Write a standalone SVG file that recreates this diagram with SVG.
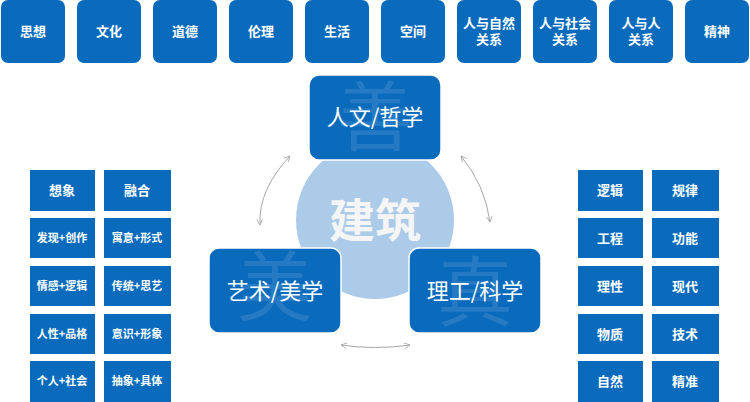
<svg xmlns="http://www.w3.org/2000/svg" width="750" height="402" viewBox="0 0 750 402">
<style>
.b{fill:#0a6bbd}
.t{fill:#fff;font-family:"Noto Sans CJK SC",sans-serif;font-size:13px;font-weight:bold;text-anchor:middle}
.s{font-size:11px}
.big{fill:#fff;font-family:"Noto Sans CJK SC",sans-serif;font-size:22px;text-anchor:middle}
.w{fill:#5b98d2;opacity:0.35;font-family:"Noto Sans CJK SC",sans-serif;font-size:76px;text-anchor:middle}
.c{fill:none;stroke:#a6a6a6;stroke-width:1;marker-start:url(#a);marker-end:url(#a)}
</style>
<defs><marker id="a" viewBox="0 0 10 10" refX="9" refY="5" markerWidth="7" markerHeight="7" orient="auto-start-reverse"><path d="M1,1 L9,5 L1,9" fill="none" stroke="#a6a6a6" stroke-width="1.2"/></marker></defs>
<rect width="750" height="402" fill="#fff"/>
<g id="top">
<g id="n1"><rect class="b" x="1" y="0" width="64" height="63" rx="7"/><text class="t" x="33" y="36">思想</text></g>
<g id="n2"><rect class="b" x="77" y="0" width="64" height="63" rx="7"/><text class="t" x="109" y="36">文化</text></g>
<g id="n3"><rect class="b" x="153" y="0" width="64" height="63" rx="7"/><text class="t" x="185" y="36">道德</text></g>
<g id="n4"><rect class="b" x="229" y="0" width="64" height="63" rx="7"/><text class="t" x="261" y="36">伦理</text></g>
<g id="n5"><rect class="b" x="305" y="0" width="64" height="63" rx="7"/><text class="t" x="337" y="36">生活</text></g>
<g id="n6"><rect class="b" x="381" y="0" width="64" height="63" rx="7"/><text class="t" x="413" y="36">空间</text></g>
<g id="n7"><rect class="b" x="457" y="0" width="64" height="63" rx="7"/><text class="t" x="489" y="28">人与自然</text><text class="t" x="489" y="44">关系</text></g>
<g id="n8"><rect class="b" x="533" y="0" width="64" height="63" rx="7"/><text class="t" x="565" y="28">人与社会</text><text class="t" x="565" y="44">关系</text></g>
<g id="n9"><rect class="b" x="609" y="0" width="64" height="63" rx="7"/><text class="t" x="641" y="28">人与人</text><text class="t" x="641" y="44">关系</text></g>
<g id="n10"><rect class="b" x="685" y="0" width="64" height="63" rx="7"/><text class="t" x="717" y="36">精神</text></g>
</g>
<g id="center"><circle cx="375" cy="220" r="79" fill="#abcbe9"/><text x="375" y="237" font-family="Noto Sans CJK SC,sans-serif" font-size="46" font-weight="bold" fill="#f5f5f5" text-anchor="middle">建筑</text></g>
<g id="phil"><rect class="b" x="309" y="75" width="132" height="85" rx="10" stroke="#fff" stroke-width="1.5"/><text class="w" x="375" y="145">善</text><text class="big" x="375" y="125">人文/哲学</text></g>
<g id="art"><rect class="b" x="209" y="248" width="132" height="85" rx="10" stroke="#fff" stroke-width="1.5"/><text class="w" x="275" y="315">美</text><text class="big" x="275" y="299">艺术/美学</text></g>
<g id="sci"><rect class="b" x="409" y="248" width="132" height="85" rx="10" stroke="#fff" stroke-width="1.5"/><text class="w" x="475" y="320">真</text><text class="big" x="475" y="299">理工/科学</text></g>
<g id="connectors">
<path class="c" d="M290,156 Q258,190 260,225"/>
<path class="c" d="M461,156 Q485,185 490,222"/>
<path class="c" d="M341,345 Q375,350 410,345"/>
</g>
<g id="left">
<g><rect class="b" x="30" y="170" width="65" height="41"/><text class="t" x="62" y="195">想象</text></g>
<g><rect class="b" x="104" y="170" width="67" height="41"/><text class="t" x="137" y="195">融合</text></g>
<g><rect class="b" x="30" y="218" width="65" height="40"/><text class="t s" x="62" y="242">发现+创作</text></g>
<g><rect class="b" x="104" y="218" width="67" height="40"/><text class="t s" x="137" y="242">寓意+形式</text></g>
<g><rect class="b" x="30" y="266" width="65" height="40"/><text class="t s" x="62" y="290">情感+逻辑</text></g>
<g><rect class="b" x="104" y="266" width="67" height="40"/><text class="t s" x="137" y="290">传统+思艺</text></g>
<g><rect class="b" x="30" y="314" width="65" height="40"/><text class="t s" x="62" y="338">人性+品格</text></g>
<g><rect class="b" x="104" y="314" width="67" height="40"/><text class="t s" x="137" y="338">意识+形象</text></g>
<g><rect class="b" x="30" y="361" width="65" height="41"/><text class="t s" x="62" y="385">个人+社会</text></g>
<g><rect class="b" x="104" y="361" width="67" height="41"/><text class="t s" x="137" y="385">抽象+具体</text></g>
</g>
<g id="right">
<g><rect class="b" x="578" y="170" width="65" height="41"/><text class="t" x="610" y="195">逻辑</text></g>
<g><rect class="b" x="652" y="170" width="67" height="41"/><text class="t" x="685" y="195">规律</text></g>
<g><rect class="b" x="578" y="218" width="65" height="40"/><text class="t" x="610" y="243">工程</text></g>
<g><rect class="b" x="652" y="218" width="67" height="40"/><text class="t" x="685" y="243">功能</text></g>
<g><rect class="b" x="578" y="266" width="65" height="40"/><text class="t" x="610" y="291">理性</text></g>
<g><rect class="b" x="652" y="266" width="67" height="40"/><text class="t" x="685" y="291">现代</text></g>
<g><rect class="b" x="578" y="314" width="65" height="40"/><text class="t" x="610" y="339">物质</text></g>
<g><rect class="b" x="652" y="314" width="67" height="40"/><text class="t" x="685" y="339">技术</text></g>
<g><rect class="b" x="578" y="361" width="65" height="41"/><text class="t" x="610" y="386">自然</text></g>
<g><rect class="b" x="652" y="361" width="67" height="41"/><text class="t" x="685" y="386">精准</text></g>
</g>
</svg>
